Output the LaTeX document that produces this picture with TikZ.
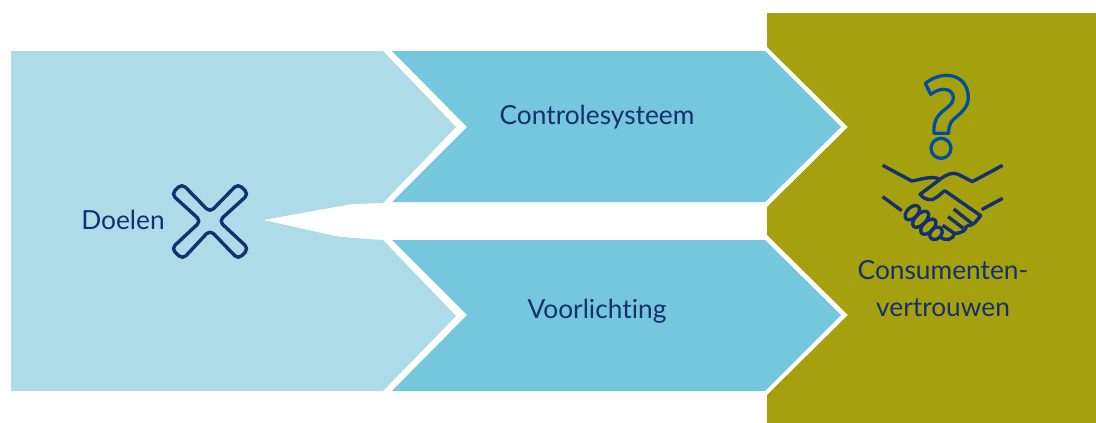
\documentclass[tikz,border=0pt]{standalone}
\usepackage{fontspec}
\setmainfont[Ligatures=NoCommon]{Lato}
\definecolor{lightblue}{HTML}{ADDBE7}
\definecolor{midblue}{HTML}{75C7DD}
\definecolor{olive}{HTML}{A5A00D}
\definecolor{navy}{HTML}{14306E}
\definecolor{qblue}{HTML}{004F9F}
\tikzset{
  lbl/.style={text=navy,font=\fontsize{26.3}{37}\selectfont,align=center,inner sep=0pt},
  iconbutt/.style={draw=navy,line width=3.4pt,line join=round},
}
\begin{document}
\begin{tikzpicture}[x=1pt,y=-1pt]
\useasboundingbox (0,0) rectangle (1096,423);
\fill[white] (0,0) rectangle (1096,423);
\fill[olive] (767,13) -- (1096,13) -- (1096,423) -- (767,423) -- (767,395) -- (848,315) -- (767,235) -- (767,207) -- (848,127) -- (767,47) -- cycle;
\fill[lightblue] (11,51) -- (383,51) -- (456,127) -- (383,203) -- (353,204) -- (335,207) -- (263,220) -- (335,236) -- (353,238) -- (383,240) -- (456,316) -- (383,391) -- (11,391) -- cycle;
\fill[midblue] (392,51) -- (765,51) -- (841,127) -- (765,202) -- (392,202) -- (467,127) -- cycle;
\fill[midblue] (392,240) -- (765,240) -- (841,315) -- (765,391) -- (392,391) -- (467,315) -- cycle;
\node[lbl] (doelen) at (123,219.5) {Doelen};
\node[lbl] (controle) at (597,117.5) {Controlesysteem};
\node[lbl] (voorlichting) at (597,311.5) {Voorlichting};
\node[lbl] (consument) at (943,288.5) {Consumenten-\\vertrouwen};
% X icon
\begin{scope}[shift={(70,170)},x=0.3333pt,y=-0.3333pt]
\draw[iconbutt,rounded corners=5pt] (420,127) -- (504,41) -- (536,72) -- (447,153) -- (536,236) -- (505,268) -- (420,180) -- (338,268) -- (304,236) -- (393,153) -- (304,72) -- (336,41) -- cycle;
\end{scope}
% question mark and handshake
\begin{scope}[shift={(860,60)},x=0.3333pt,y=-0.3333pt]
\draw[draw=qblue,line width=3.3pt,line join=round] (196,70) .. controls (220,52) and (240,46) .. (260,46) .. controls (300,46) and (325,75) .. (325,112) .. controls (325,140) and (305,157) .. (290,170) .. controls (275,182) and (266,190) .. (266,220) -- (222,220) .. controls (220,190) and (228,170) .. (250,152) .. controls (268,138) and (280,130) .. (280,113) .. controls (280,97) and (268,88) .. (250,88) .. controls (238,88) and (225,94) .. (212,103) -- cycle;
\draw[draw=qblue,line width=3.3pt] (243,265) circle [radius=30];
\draw[iconbutt] (68,316) -- (155,363) .. controls (180,360) and (215,345) .. (240,358);
\draw[iconbutt] (428,316) -- (337,365) -- (295,343) .. controls (275,336) and (262,342) .. (240,358) -- (180,403) .. controls (195,420) and (215,425) .. (230,412) -- (254,392) -- (362,467) .. controls (350,480) and (345,497) .. (320,497);
\draw[iconbutt] (68,410) -- (125,452);
\draw[iconbutt] (365,449) -- (428,415);
\draw[iconbutt] (281,447) -- (335,490);
\draw[iconbutt] (264,470) -- (310,505);
\draw[iconbutt] (320,497) .. controls (318,510) and (308,520) .. (283,520);
\draw[iconbutt] (248,496) -- (283,520) .. controls (280,540) and (255,545) .. (240,530);
\foreach \cx/\cy/\ra in {157/458/26, 182/478/30, 205/500/28, 228/520/21}
  \draw[iconbutt,rotate around={45:(\cx,\cy)}] (\cx,\cy) ellipse [x radius=\ra, y radius=16];
\end{scope}
\end{tikzpicture}
\end{document}
